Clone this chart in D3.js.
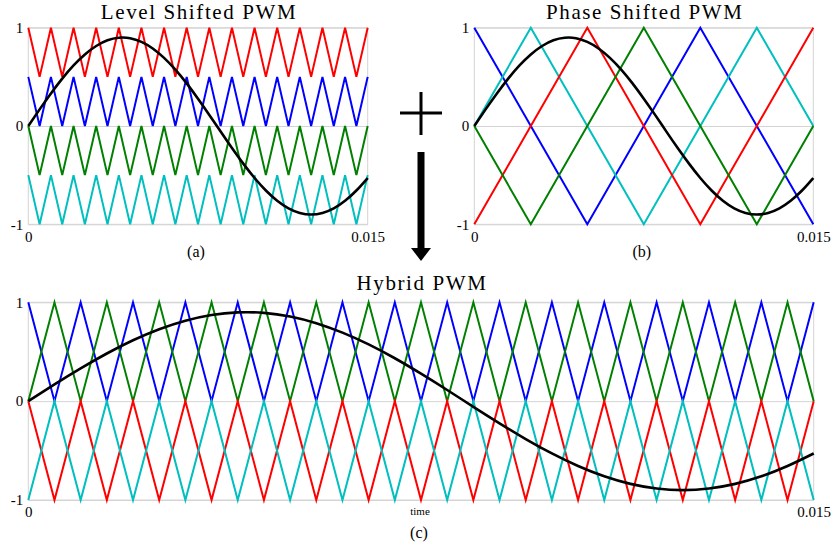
<!doctype html>
<html>
<head>
<meta charset="utf-8">
<script src="https://cdn.jsdelivr.net/npm/d3@7"></script>
<style>
    body {margin: 0; background: #fff;}
    svg {display: block;}
    svg text {font-family: "Liberation Serif", "DejaVu Serif", "Times New Roman", serif;}
</style>
</head>
<body>
<svg width="837" height="546"></svg>

<script>
// time points (s) where the carrier triangles turn
const tFast = [0,0.0005,0.001,0.0015,0.002,0.0025,0.003,0.0035,0.004,0.0045,0.005,0.0055,0.006,0.0065,0.007,0.0075,
               0.008,0.0085,0.009,0.0095,0.01,0.0105,0.011,0.0115,0.012,0.0125,0.013,0.0135,0.014,0.0145,0.015];
const tSlow = [0,0.0025,0.005,0.0075,0.01,0.0125,0.015];

// (a) level shifted carriers
const lsRed   = [1,0.5,1,0.5,1,0.5,1,0.5,1,0.5,1,0.5,1,0.5,1,0.5,1,0.5,1,0.5,1,0.5,1,0.5,1,0.5,1,0.5,1,0.5,1];
const lsBlue  = [0.5,0,0.5,0,0.5,0,0.5,0,0.5,0,0.5,0,0.5,0,0.5,0,0.5,0,0.5,0,0.5,0,0.5,0,0.5,0,0.5,0,0.5,0,0.5];
const lsGreen = [0,-0.5,0,-0.5,0,-0.5,0,-0.5,0,-0.5,0,-0.5,0,-0.5,0,-0.5,0,-0.5,0,-0.5,0,-0.5,0,-0.5,0,-0.5,0,-0.5,0,-0.5,0];
const lsCyan  = [-0.5,-1,-0.5,-1,-0.5,-1,-0.5,-1,-0.5,-1,-0.5,-1,-0.5,-1,-0.5,-1,-0.5,-1,-0.5,-1,-0.5,-1,-0.5,-1,-0.5,-1,-0.5,-1,-0.5,-1,-0.5];

// (b) phase shifted carriers
const psBlue  = [1,0,-1,0,1,0,-1];
const psCyan  = [0,1,0,-1,0,1,0];
const psRed   = [-1,0,1,0,-1,0,1];
const psGreen = [0,-1,0,1,0,-1,0];

// (c) hybrid carriers
const hyBlue  = [1,0,1,0,1,0,1,0,1,0,1,0,1,0,1,0,1,0,1,0,1,0,1,0,1,0,1,0,1,0,1];
const hyGreen = [0,1,0,1,0,1,0,1,0,1,0,1,0,1,0,1,0,1,0,1,0,1,0,1,0,1,0,1,0,1,0];
const hyRed   = [0,-1,0,-1,0,-1,0,-1,0,-1,0,-1,0,-1,0,-1,0,-1,0,-1,0,-1,0,-1,0,-1,0,-1,0,-1,0];
const hyCyan  = [-1,0,-1,0,-1,0,-1,0,-1,0,-1,0,-1,0,-1,0,-1,0,-1,0,-1,0,-1,0,-1,0,-1,0,-1,0,-1];

// reference (modulating) wave, sampled on tFast
const refWave = [0,0.169,0.331,0.482,0.616,0.728,0.814,0.872,0.898,0.893,0.856,0.789,0.693,0.574,0.434,0.278,
                 0.113,-0.057,-0.224,-0.383,-0.529,-0.656,-0.760,-0.837,-0.884,-0.9,-0.884,-0.837,-0.760,-0.656,-0.529];

const yTicks = [-1, 0, 1];
const xTicks = [0, 0.015];
const xTickLabels = ["0", "0.015"];

const svg = d3.select('svg');

function panel(opt) {
    var x = d3.scaleLinear().domain([0, 0.015]).range([opt.x0, opt.x1]);
    var y = d3.scaleLinear().domain([-1, 1]).range([opt.y1, opt.y0]);
    var g = svg.append("g");

    // grid + y labels
    g.append("g")
        .attr("transform", "translate(" + opt.x0 + ",0)")
        .call(d3.axisLeft(y).tickValues(yTicks).tickSize(-(opt.x1 - opt.x0)).tickPadding(5).tickFormat(d => String(d)))
        .call(a => a.attr("font-family", null))
        .call(a => a.select(".domain").remove())
        .call(a => a.selectAll("line").attr("stroke", "#d4d4d4"))
        .call(a => a.selectAll("text").attr("font-size", 15).attr("fill", "#000"));
    g.append("rect")
        .attr("x", opt.x0).attr("y", opt.y0)
        .attr("width", opt.x1 - opt.x0).attr("height", opt.y1 - opt.y0)
        .attr("fill", "none").attr("stroke", "#d4d4d4");

    // x labels
    g.append("g")
        .attr("transform", "translate(0," + opt.y1 + ")")
        .call(d3.axisBottom(x).tickValues(xTicks).tickSize(0).tickPadding(opt.pad).tickFormat((d, i) => xTickLabels[i]))
        .call(a => a.attr("font-family", null))
        .call(a => a.select(".domain").remove())
        .call(a => a.selectAll("text").attr("font-size", 15).attr("fill", "#000"));

    var line = d3.line().x(d => x(d[0])).y(d => y(d[1]));
    opt.carriers.forEach(function(c) {
        g.append("path")
            .datum(c.t.map((t, i) => [t, c.v[i]]))
            .attr("d", line)
            .attr("fill", "none").attr("stroke", c.color).attr("stroke-width", 2)
            .attr("stroke-linejoin", "miter");
    });
    g.append("path")
        .datum(tFast.map((t, i) => [t, refWave[i]]))
        .attr("d", line.curve(d3.curveNatural))
        .attr("fill", "none").attr("stroke", "#000").attr("stroke-width", 2.6);

    g.append("text")
        .attr("x", (opt.x0 + opt.x1) / 2 + 1).attr("y", opt.titleY)
        .attr("text-anchor", "middle").attr("font-size", 21).attr("letter-spacing", 1.6)
        .text(opt.title);
    g.append("text")
        .attr("x", (opt.x0 + opt.x1) / 2 - 2).attr("y", opt.capY)
        .attr("text-anchor", "middle").attr("font-size", 16)
        .text(opt.caption);
    return g;
}

const RED = "#ff0000", BLUE = "#0000ff", GREEN = "#008000", CYAN = "#00bfbf";

panel({x0: 28.3, x1: 367.7, y0: 27.7, y1: 224.3, pad: 7, title: "Level Shifted PWM", titleY: 19, caption: "(a)", capY: 257,
    carriers: [{t: tFast, v: lsRed, color: RED}, {t: tFast, v: lsBlue, color: BLUE},
               {t: tFast, v: lsGreen, color: GREEN}, {t: tFast, v: lsCyan, color: CYAN}]});

panel({x0: 474.3, x1: 813.3, y0: 27.7, y1: 224.3, pad: 7, title: "Phase Shifted PWM", titleY: 19, caption: "(b)", capY: 257,
    carriers: [{t: tSlow, v: psBlue, color: BLUE}, {t: tSlow, v: psCyan, color: CYAN},
               {t: tSlow, v: psRed, color: RED}, {t: tSlow, v: psGreen, color: GREEN}]});

const pc = panel({x0: 28.3, x1: 813.7, y0: 302.3, y1: 500, pad: 6, title: "Hybrid PWM", titleY: 290, caption: "(c)", capY: 538,
    carriers: [{t: tFast, v: hyBlue, color: BLUE}, {t: tFast, v: hyGreen, color: GREEN},
               {t: tFast, v: hyRed, color: RED}, {t: tFast, v: hyCyan, color: CYAN}]});

pc.append("text")
    .attr("x", 420).attr("y", 515)
    .attr("text-anchor", "middle").attr("font-size", 11)
    .text("time");

// plus sign and arrow between the panels
svg.append("path")
    .attr("d", "M400,113H442M421,92V135")
    .attr("stroke", "#000").attr("stroke-width", 3).attr("fill", "none");
svg.append("rect")
    .attr("x", 417.5).attr("y", 152).attr("width", 7).attr("height", 97)
    .attr("fill", "#000");
svg.append("path")
    .attr("d", "M411,248L431,248L421,261Z")
    .attr("fill", "#000");
</script>
</body>
</html>
